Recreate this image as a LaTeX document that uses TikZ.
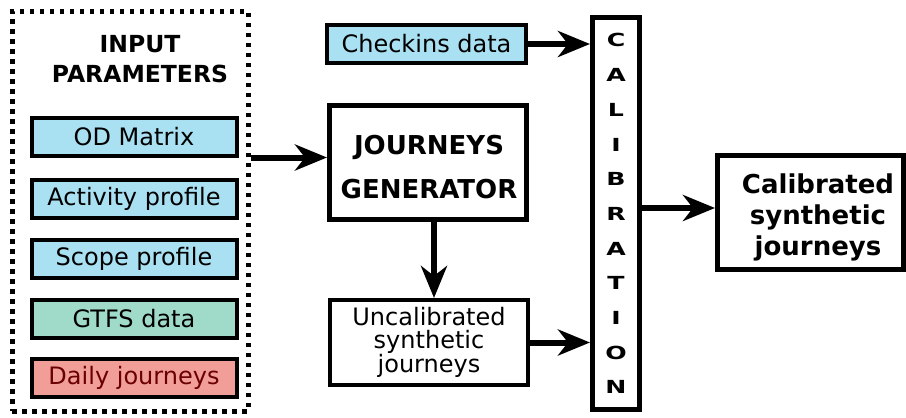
\documentclass[tikz,border=0pt]{standalone}
\usepackage{fontspec}
\setmainfont{DejaVu Sans}
\usetikzlibrary{arrows.meta}

\definecolor{inblue}{HTML}{A9E0F2}
\definecolor{gtfsgreen}{HTML}{A0DAC8}
\definecolor{dailyred}{HTML}{F19E99}
\definecolor{dailytext}{HTML}{6A0000}

\begin{document}
\begin{tikzpicture}[x=1pt,y=-1pt,
  inbox/.style={draw, line width=4pt, minimum width=205pt, minimum height=38pt,
    inner sep=0pt, font=\fontsize{24}{24}\selectfont},
  bigbox/.style={draw, line width=5pt, inner sep=0pt, align=center},
  flow/.style={line width=6pt, -{Stealth[length=32pt,width=26pt,inset=10pt]}},
]
\useasboundingbox (0,0) rectangle (906,418);

% input parameters frame
\node[draw, line width=5pt, dash pattern=on 4.5pt off 5.5pt,
      minimum width=236pt, minimum height=400pt, inner sep=0pt] (frame) at (130,211) {};
\node[align=center, font=\bfseries\fontsize{23.5}{30}\selectfont] (title) at (140,59)
  {INPUT\\PARAMETERS};

\node[inbox, fill=inblue]    (od)    at (134,137) {OD Matrix};
\node[inbox, fill=inblue]    (act)   at (134,198.5) {Activity profile};
\node[inbox, fill=inblue]    (scope) at (134,258.5) {Scope profile};
\node[inbox, fill=gtfsgreen] (gtfs)  at (134,318.5) {GTFS data};
\node[inbox, fill=dailyred, text=dailytext] (daily) at (134,378) {Daily journeys};

% middle column
\node[inbox, fill=inblue, minimum width=199pt, minimum height=38pt] (chk) at (426.5,44) {Checkins data};
\node[bigbox, minimum width=197pt, minimum height=114pt] (jg) at (428,162.5) {};
\node[align=center, font=\bfseries\fontsize{26}{44}\selectfont] (jgtext) at (429,167.5)
  {JOURNEYS\\GENERATOR};
\node[bigbox, line width=4pt, minimum width=198pt, minimum height=85pt,
      font=\fontsize{24}{22.5}\selectfont] (unc) at (429,342.5)
  {Uncalibrated\\synthetic\\journeys};

% calibration bar, letters stacked and widened
\node[bigbox, minimum width=47pt, minimum height=392pt,
      font=\bfseries\fontsize{18}{34.7}\selectfont] (cal) at (616,213.5)
  {\scalebox{1.4}[1]{\begin{tabular}{@{}c@{}}C\\A\\L\\I\\B\\R\\A\\T\\I\\O\\N\end{tabular}}};

% output
\node[bigbox, minimum width=186pt, minimum height=114pt] (out) at (810.5,212.5) {};
\node[align=center, font=\bfseries\fontsize{26}{31}\selectfont] (outtext) at (818,217)
  {Calibrated\\synthetic\\journeys};

% connectors
\coordinate (jgin) at ([yshift=5pt]jg.west);
\coordinate (uncin) at ([xshift=5pt]unc.north);
\coordinate (outin) at ([yshift=4.5pt]out.west);
\draw[flow] (frame.east |- jgin) -- (jgin);
\draw[flow] (jg.south -| uncin) -- (uncin);
\draw[flow] (chk.east) -- (chk.east -| cal.west);
\draw[flow] (unc.east) -- (unc.east -| cal.west);
\draw[flow] (cal.east |- outin) -- (outin);
\end{tikzpicture}
\end{document}
